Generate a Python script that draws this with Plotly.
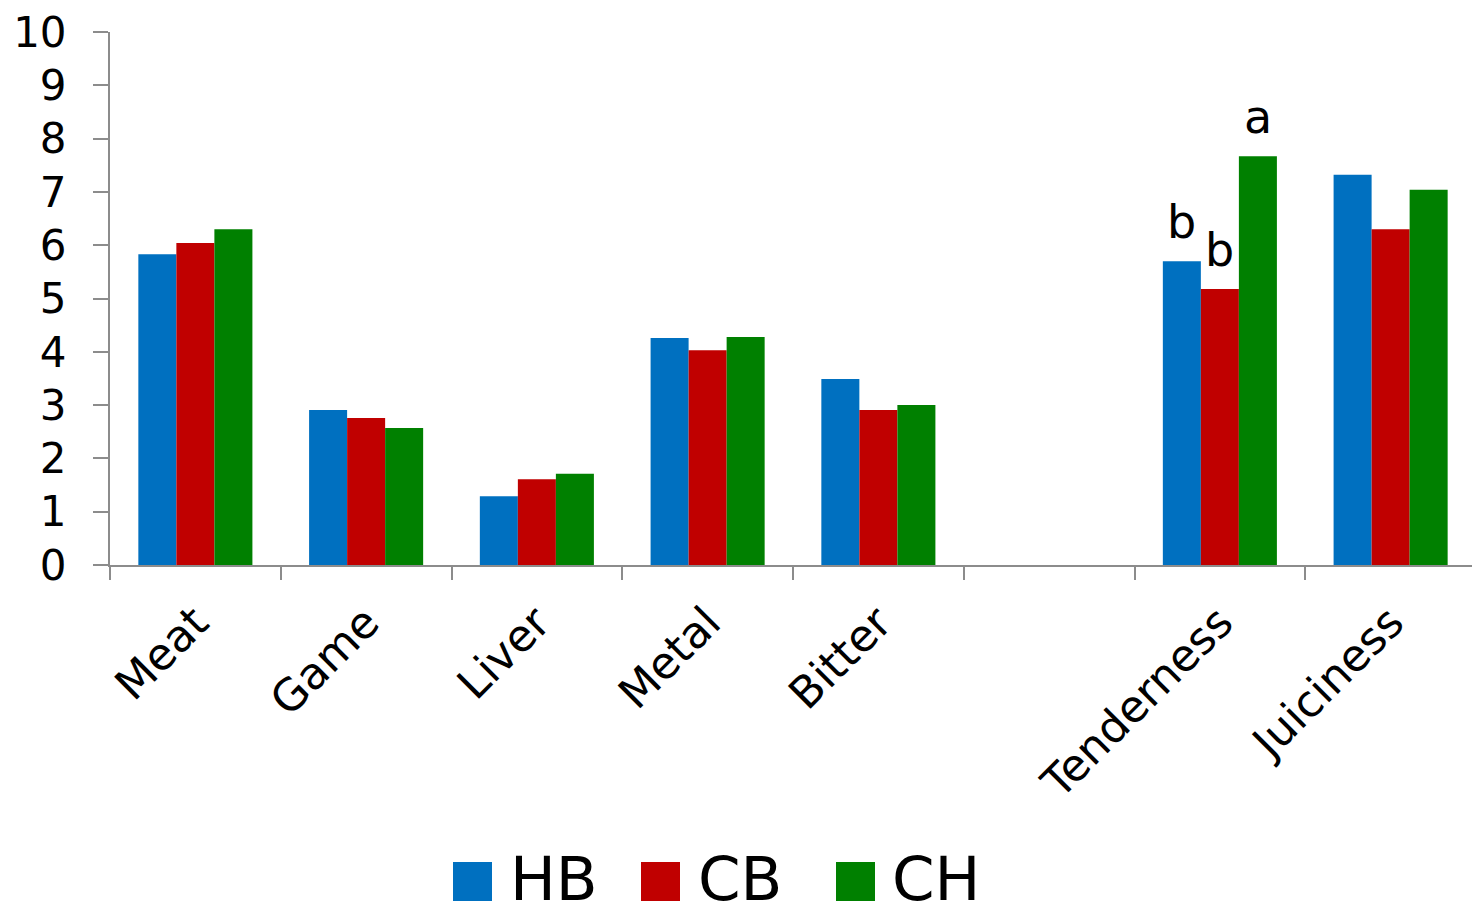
import plotly.graph_objects as go

categories = ["Meat", "Game", "Liver", "Metal", "Bitter", " ", "Tenderness", "Juiciness"]
series_names = ["HB", "CB", "CH"]
colors = ["#0070C0", "#C00000", "#008000"]
hb = [5.83, 2.91, 1.29, 4.26, 3.49, None, 5.70, 7.32]
cb = [6.04, 2.76, 1.61, 4.03, 2.91, None, 5.18, 6.30]
ch = [6.30, 2.57, 1.71, 4.28, 3.00, None, 7.67, 7.04]
hb_letters = ["", "", "", "", "", "", "b", ""]
cb_letters = ["", "", "", "", "", "", "b", ""]
ch_letters = ["", "", "", "", "", "", "a", ""]
y_ticks = list(range(0, 11))

FONT = "DejaVu Sans"
fig = go.Figure()
series = [hb, cb, ch]
letters_all = [hb_letters, cb_letters, ch_letters]
for name, vals, col in zip(series_names, series, colors):
    fig.add_trace(go.Bar(
        x=categories, y=vals, name=name, marker=dict(color=col, line=dict(width=0)),
        showlegend=False,
    ))

# significance letters above bars
X_RANGE = [-0.5, 7.4766]
PLOT_W = 1362.0
BARGAP = 0.332
cat_px = PLOT_W / (X_RANGE[1] - X_RANGE[0])
bar_px = cat_px * (1 - BARGAP) / 3
for i, (vals, letters) in enumerate(zip(series, letters_all)):
    for cat, v, t in zip(categories, vals, letters):
        if t and v is not None:
            fig.add_annotation(x=cat, y=v, text=t, showarrow=False,
                               xanchor="center", yanchor="bottom",
                               xshift=(i - 1) * bar_px, yshift=10,
                               font=dict(family=FONT, size=46, color="black"))

# legend (manual, large swatches)
H = 533.0
def px2x(p):
    return (p - 110) / PLOT_W
def py2y(p):
    return (565 - p) / H
sq_left = [453, 641, 836]
txt_left = [508, 696, 890]
for name, col, sl, tl in zip(series_names, colors, sq_left, txt_left):
    fig.add_shape(type="rect", xref="paper", yref="paper",
                  x0=px2x(sl), x1=px2x(sl + 39), y0=py2y(862), y1=py2y(901),
                  fillcolor=col, line=dict(width=0))
    fig.add_annotation(xref="paper", yref="paper", x=px2x(tl), y=py2y(878),
                       xanchor="left", yanchor="middle", text=name, showarrow=False,
                       font=dict(family=FONT, size=61, color="black"))

fig.update_layout(
    width=1472, height=915,
    margin=dict(l=110, r=0, t=32, b=350),
    paper_bgcolor="white", plot_bgcolor="white",
    barmode="group", bargap=BARGAP, bargroupgap=0,
    font=dict(family=FONT, color="black"),
    showlegend=False,
)
fig.update_xaxes(
    type="category", range=X_RANGE,
    showline=True, linecolor="#8c8c8c", linewidth=2,
    ticks="outside", tickson="boundaries", ticklen=13, tickwidth=2, tickcolor="#8c8c8c",
    tickangle=-45, tickfont=dict(family=FONT, size=44, color="black"),
    ticklabelstandoff=12,
    showgrid=False, zeroline=False,
)
fig.update_yaxes(
    range=[0, 10], tickvals=y_ticks, ticktext=[str(v) for v in y_ticks],
    showline=True, linecolor="#8c8c8c", linewidth=2,
    ticks="outside", ticklen=15, tickwidth=2, tickcolor="#8c8c8c",
    tickfont=dict(family=FONT, size=42, color="black"), ticklabelstandoff=18,
    showgrid=False, zeroline=False,
)
fig.write_html("out.html")
